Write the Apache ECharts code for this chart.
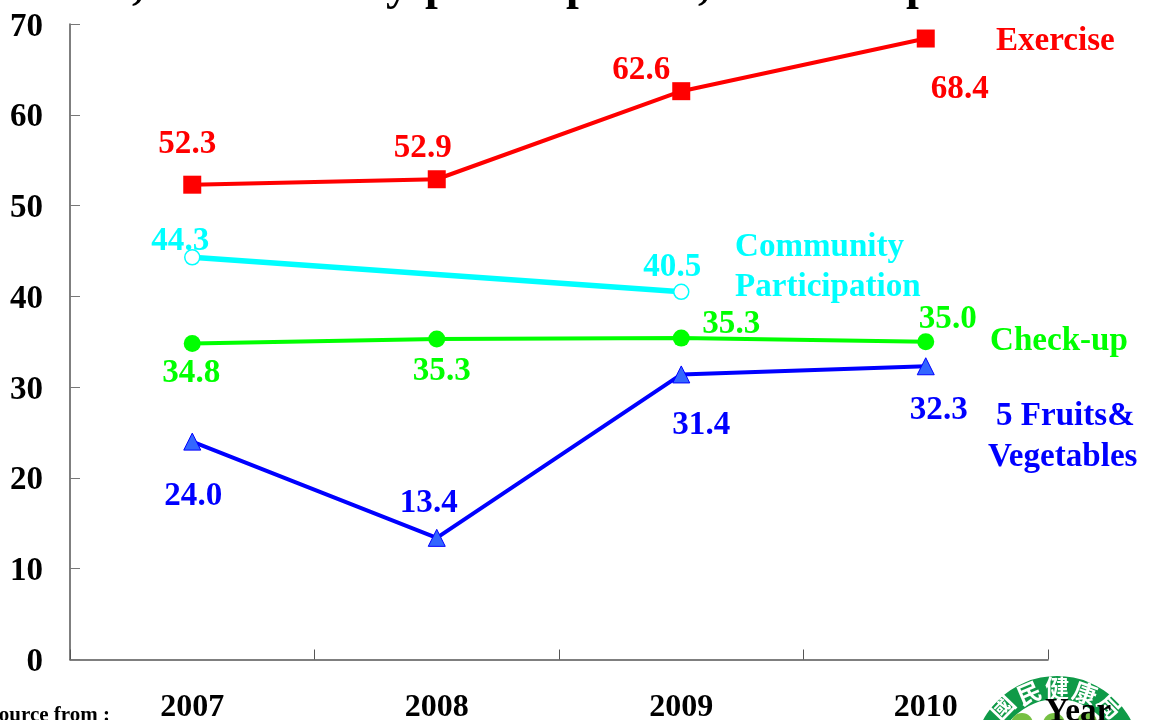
<!DOCTYPE html>
<html><head><meta charset="utf-8">
<style>html,body{margin:0;padding:0;background:#fff}#c{width:1149px;height:720px}</style>
<script src="https://cdn.jsdelivr.net/npm/echarts@6/dist/echarts.min.js"></script>
</head><body><div id="c"></div>
<script>
const years = ['2007','2008','2009','2010'];
const exercise = [52.3,52.9,62.6,68.4];
const community = [44.3,null,40.5,null];
const checkup = [34.8,35.3,35.4,35.0];
const checkupLabels = ['34.8','35.3','35.3','35.0'];
const fruits = [24.0,13.4,31.4,32.3];
const serif = '"Liberation Serif","Times New Roman",serif';
const LF = 33.1;
const lab = (color, offs, texts) => (v, i) => v === null ? null : ({
  value: v,
  label: {show:true, position:'inside', offset:offs[i], color, fontFamily:serif, fontWeight:'bold', fontSize:LF,
    formatter: texts ? texts[i] : v.toFixed(1)}
});
function line(name, data, color, width, symbol, size, itemStyle, z){
  return {name, type:'line', data, connectNulls:true, symbol, symbolSize:size, z,
    lineStyle:{color, width}, itemStyle, animation:false, silent:true};
}
const t = (text,x,y,color,opt) => ({type:'text', x, y, silent:true, z:20, style:Object.assign({text, fill:color,
  font:`bold ${LF}px ${serif}`, textVerticalAlign:'middle', textAlign:'left'},opt||{})});
const titleBits = [[',',132],['y',386],['p',425],['p',566],[',',698],['p',906]];
const sealChars = [['國',1002,707,0.80],['民',1029,693,0.40],['健',1057,688,0],['康',1085,693,-0.35],['局',1110,706,-0.78]];
const chart = echarts.init(document.getElementById('c'),null,{renderer:'canvas'});
chart.setOption({
  animation:false, backgroundColor:'#fff',
  grid:{left:70,right:101,top:24,bottom:60.5,containLabel:false,outerBoundsMode:'none'},
  xAxis:{type:'category',data:years,boundaryGap:true,
    axisLine:{lineStyle:{color:'#555',width:1.5}},
    axisTick:{show:true,inside:true,length:10,alignWithLabel:false,lineStyle:{color:'#555',width:1}},
    axisLabel:{color:'#000',fontFamily:serif,fontWeight:'bold',fontSize:32,margin:32},splitLine:{show:false}},
  yAxis:{type:'value',min:0,max:70,interval:10,
    axisLine:{show:true,lineStyle:{color:'#555',width:1.5}},
    axisTick:{show:true,inside:true,length:10,lineStyle:{color:'#777',width:1}},
    axisLabel:{color:'#000',fontFamily:serif,fontWeight:'bold',fontSize:33,margin:27,verticalAlign:'top',lineHeight:6},
    splitLine:{show:false}},
  series:[
    line('Exercise',exercise.map(lab('#ff0000',[[-5,-40],[-14,-31],[-40,-21],[34,51]])),'#ff0000',4,'rect',18,{color:'#ff0000'},4),
    line('Community Participation',community.map(lab('#00ffff',[[-12,-16],[0,0],[-9,-24],[0,0]])),'#00ffff',5.5,'circle',15,{color:'#fff',borderColor:'#00ffff',borderWidth:1.5},3),
    line('Check-up',checkup.map(lab('#00ff00',[[-1,30],[5,32],[50,-14],[22,-22]],checkupLabels)),'#00ff00',4,'circle',17,{color:'#00ff00'},3),
    line('5 Fruits & Vegetables',fruits.map(lab('#0000ff',[[1,55],[-8,-34],[20,51],[13,44]])),'#0000ff',4,'triangle',17,{color:'#3366ff',borderColor:'#0000ff',borderWidth:1},3)
  ],
  graphic:[].concat(
    titleBits.map(b=>({type:'text',x:b[1],y:-36,silent:true,z:20,style:{text:b[0],fill:'#000',font:`bold 46px ${serif}`,textAlign:'left',textVerticalAlign:'top'}})),
    [
    t('Exercise',996,41,'#ff0000'),
    t('Community',735,247,'#00ffff'),
    t('Participation',735,287,'#00ffff'),
    t('Check-up',990,341,'#00ff00'),
    t('5 Fruits&',996,416,'#0000ff'),
    t('Vegetables',988,457,'#0000ff'),
    t('ource from :',110,716,'#000',{font:`bold 21px ${serif}`,textAlign:'right'}),
    {type:'ring',silent:true,z:5,shape:{cx:1057,cy:760,r:84,r0:61},style:{fill:'#0f9a48'}},
    {type:'circle',silent:true,z:6,shape:{cx:1022,cy:724,r:11},style:{fill:'#76c043'}},
    {type:'circle',silent:true,z:6,shape:{cx:1054,cy:724,r:11},style:{fill:'#76c043'}},
    {type:'circle',silent:true,z:6,shape:{cx:1087,cy:722,r:10},style:{fill:'#76c043'}}
    ],
    sealChars.map(c=>({type:'text',x:c[1],y:c[2],rotation:c[3],silent:true,z:7,style:{text:c[0],fill:'#fff',font:'bold 24px "Noto Sans CJK TC"',textAlign:'center',textVerticalAlign:'middle'}})),
    [t('Year',1045,712,'#000',{})]
  )
});
</script></body></html>
